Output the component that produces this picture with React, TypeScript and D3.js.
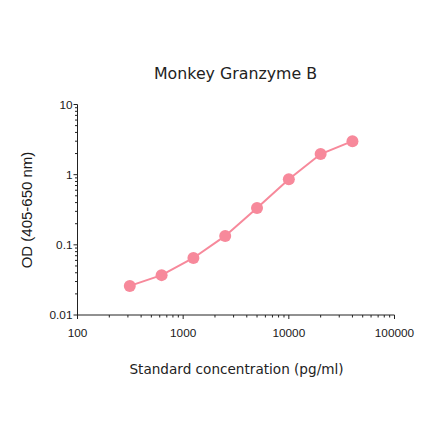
import React from 'react';
import * as d3 from 'd3';

const concentrations = [312.5, 625, 1250, 2500, 5000, 10000, 20000, 40000];
const odValues = [0.026, 0.037, 0.065, 0.134, 0.335, 0.86, 1.97, 3.0];
const xTickLabels = [100, 1000, 10000, 100000];
const yTickLabels = [0.01, 0.1, 1, 10];

const W = 440;
const H = 441;
const margin = { top: 104.5, right: 45.5, bottom: 126, left: 77.5 };
const pink = '#f7899b';
const axisColor = '#222';

export default function App() {
  const x = d3.scaleLog().domain([100, 100000]).range([margin.left, W - margin.right]);
  const y = d3.scaleLog().domain([0.01, 10]).range([H - margin.bottom, margin.top]);
  const x0 = margin.left;
  const y0 = H - margin.bottom;

  // minor ticks 2..9 inside each decade
  const xMinor: number[] = [];
  for (let d = 100; d < 100000; d *= 10) for (let k = 2; k <= 9; k++) xMinor.push(d * k);
  const yMinor: number[] = [];
  for (let d = 0.01; d < 9; d *= 10) for (let k = 2; k <= 9; k++) yMinor.push(+(d * k).toPrecision(3));

  const line = d3.line<number>()
    .x((_, i) => x(concentrations[i]))
    .y(d => y(d));

  return (
    <svg width={W} height={H} style={{ position: 'absolute', left: 0, top: 0, background: '#fff' }}>
      <text x={235.5} y={79} textAnchor="middle" fontFamily="DejaVu Sans" fontSize={15.8} fill="#222">
        Monkey Granzyme B
      </text>

      {/* y axis */}
      <line x1={x0} x2={x0} y1={y(10)} y2={y0} stroke={axisColor} strokeWidth={1} />
      {yTickLabels.map(v => (
        <g key={'yt' + v}>
          <line x1={x0 - 4} x2={x0} y1={y(v)} y2={y(v)} stroke={axisColor} />
          <text x={x0 - 5} y={y(v)} dy="0.35em" textAnchor="end" fontFamily="Liberation Sans" fontSize={11.8} fill="#1a1a1a">
            {v}
          </text>
        </g>
      ))}
      {yMinor.map(v => (
        <line key={'ym' + v} x1={x0 - 2.5} x2={x0} y1={y(v)} y2={y(v)} stroke={axisColor} />
      ))}

      {/* x axis */}
      <line x1={x0} x2={x(100000)} y1={y0} y2={y0} stroke={axisColor} strokeWidth={1} />
      {xTickLabels.map(v => (
        <g key={'xt' + v}>
          <line x1={x(v)} x2={x(v)} y1={y0} y2={y0 + 4} stroke={axisColor} />
          <text x={x(v)} y={y0 + 21.5} textAnchor="middle" fontFamily="Liberation Sans" fontSize={11.8} fill="#1a1a1a">
            {v}
          </text>
        </g>
      ))}
      {xMinor.map(v => (
        <line key={'xm' + v} x1={x(v)} x2={x(v)} y1={y0} y2={y0 + 2.5} stroke={axisColor} />
      ))}

      <text x={236.5} y={374} textAnchor="middle" fontFamily="DejaVu Sans" fontSize={13.6} fill="#222">
        Standard concentration (pg/ml)
      </text>
      <text transform={`translate(32,210) rotate(-90)`} textAnchor="middle" fontFamily="Liberation Sans" fontSize={15} fill="#1a1a1a">
        OD (405-650 nm)
      </text>

      <path d={line(odValues) ?? ''} fill="none" stroke={pink} strokeWidth={2} />
      {odValues.map((v, i) => (
        <circle key={'p' + i} cx={x(concentrations[i])} cy={y(v)} r={6} fill={pink} />
      ))}
    </svg>
  );
}
